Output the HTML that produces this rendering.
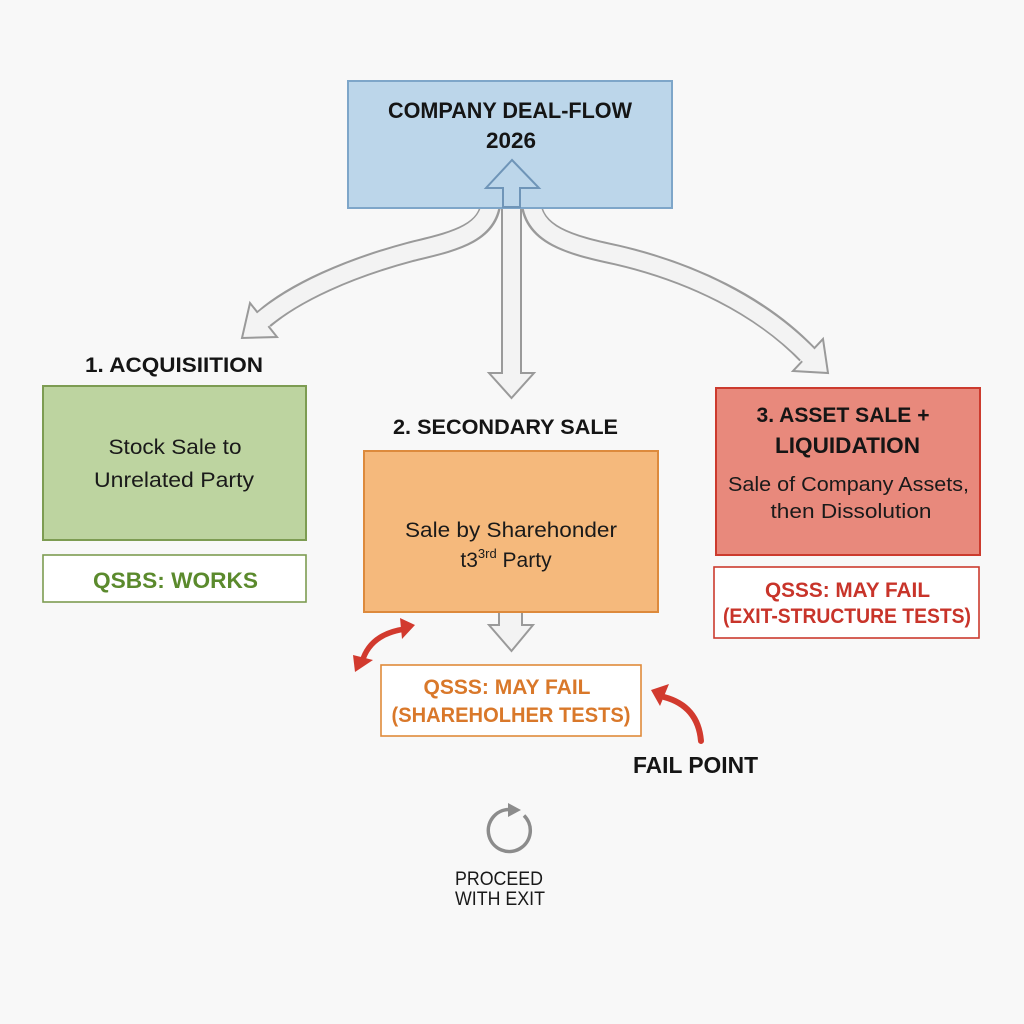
<!DOCTYPE html>
<html><head><meta charset="utf-8"><style>
html,body{margin:0;padding:0;background:#f8f8f8;}
svg{display:block;}
text{font-family:"Liberation Sans",sans-serif;}
.b{font-weight:bold;}
</style></head><body>
<svg width="1024" height="1024" viewBox="0 0 1024 1024" xmlns="http://www.w3.org/2000/svg">
<rect x="0" y="0" width="1024" height="1024" fill="#f8f8f8"/>

<!-- Left curved arrow -->
<path d="M491,200 C490,235 450,242 410,252 C350,268 295,292 264,319" fill="none" stroke="#9a9a9a" stroke-width="21"/>
<polygon points="242,338 250,303 277,337" fill="#f3f3f3" stroke="#9a9a9a" stroke-width="2" stroke-linejoin="miter"/>
<path d="M491,198 C490,235 450,242 410,252 C350,268 295,292 260,322" fill="none" stroke="#f3f3f3" stroke-width="17"/>

<!-- Right curved arrow -->
<path d="M531,200 C532,235 570,245 617,255 C690,272 760,305 807,354" fill="none" stroke="#9a9a9a" stroke-width="21"/>
<polygon points="828,373 823,339 793,371" fill="#f3f3f3" stroke="#9a9a9a" stroke-width="2" stroke-linejoin="miter"/>
<path d="M531,198 C532,235 570,245 617,255 C690,272 760,305 811,358" fill="none" stroke="#f3f3f3" stroke-width="17"/>

<!-- Center down arrow -->
<polygon points="502,200 521,200 521,373 534,373 511.5,398 489,373 502,373" fill="#f3f3f3" stroke="#9a9a9a" stroke-width="2"/>

<!-- Top box -->
<rect x="348" y="81" width="324" height="127" fill="#bcd6ea" stroke="#7ea6c9" stroke-width="2"/>
<text x="510" y="118" font-size="22" class="b" fill="#151515" text-anchor="middle" textLength="244" lengthAdjust="spacingAndGlyphs">COMPANY DEAL-FLOW</text>
<text x="511" y="148" font-size="22" class="b" fill="#151515" text-anchor="middle" textLength="50" lengthAdjust="spacingAndGlyphs">2026</text>
<polygon points="512,160 539,188 520,188 520,207 503,207 503,188 486,188" fill="#bcd6ea" stroke="#6f95b8" stroke-width="2" stroke-linejoin="miter"/>

<!-- Left column -->
<text x="174" y="372" font-size="21" class="b" fill="#151515" text-anchor="middle" textLength="178" lengthAdjust="spacingAndGlyphs">1. ACQUISIITION</text>
<rect x="43" y="386" width="263" height="154" fill="#bdd4a0" stroke="#7d9c52" stroke-width="2"/>
<text x="175" y="454" font-size="21" fill="#1a1a1a" text-anchor="middle" textLength="133" lengthAdjust="spacingAndGlyphs">Stock Sale to</text>
<text x="174" y="487" font-size="21" fill="#1a1a1a" text-anchor="middle" textLength="160" lengthAdjust="spacingAndGlyphs">Unrelated Party</text>
<rect x="43" y="555" width="263" height="47" fill="#ffffff" stroke="#7d9c52" stroke-width="1.6"/>
<text x="175.5" y="588" font-size="22" class="b" fill="#5b8a2d" text-anchor="middle" textLength="165" lengthAdjust="spacingAndGlyphs">QSBS: WORKS</text>

<!-- Middle column -->
<text x="505.5" y="434" font-size="21" class="b" fill="#151515" text-anchor="middle" textLength="225" lengthAdjust="spacingAndGlyphs">2. SECONDARY SALE</text>
<polygon points="499,605 522,605 522,625 533,625 511.5,651 489,625 499,625" fill="#f3f3f3" stroke="#9a9a9a" stroke-width="2"/>
<rect x="364" y="451" width="294" height="161" fill="#f5b97c" stroke="#dd8a3c" stroke-width="2"/>
<text x="511" y="537" font-size="21" fill="#1a1a1a" text-anchor="middle" textLength="212" lengthAdjust="spacingAndGlyphs">Sale by Sharehonder</text>
<text x="506" y="567" font-size="21" fill="#1a1a1a" text-anchor="middle">t3<tspan font-size="13" dy="-9">3rd</tspan><tspan dy="9"> Party</tspan></text>

<rect x="381" y="665" width="260" height="71" fill="#ffffff" stroke="#e08a3a" stroke-width="1.6"/>
<text x="507" y="694" font-size="21" class="b" fill="#d9782a" text-anchor="middle" textLength="167" lengthAdjust="spacingAndGlyphs">QSSS: MAY FAIL</text>
<text x="511" y="722" font-size="21" class="b" fill="#d9782a" text-anchor="middle" textLength="239" lengthAdjust="spacingAndGlyphs">(SHAREHOLHER TESTS)</text>

<!-- Red double arrow -->
<path d="M362,662 Q370,634 405,629" fill="none" stroke="#d23a2e" stroke-width="5.5" stroke-linecap="round"/>
<polygon points="353,655 355,672 373,660" fill="#d23a2e"/>
<polygon points="400,618 415,625 402,639" fill="#d23a2e"/>

<!-- Fail point arrow -->
<path d="M701,741 Q698,706 664,697" fill="none" stroke="#d23a2e" stroke-width="6" stroke-linecap="round"/>
<polygon points="651,690 669,684 660,706" fill="#d23a2e"/>
<text x="695.5" y="773" font-size="23" class="b" fill="#151515" text-anchor="middle" textLength="125" lengthAdjust="spacingAndGlyphs">FAIL POINT</text>

<!-- Right column -->
<rect x="716" y="388" width="264" height="167" fill="#e8897c" stroke="#cc3b2e" stroke-width="2"/>
<text x="843" y="422" font-size="21" class="b" fill="#151515" text-anchor="middle" textLength="173" lengthAdjust="spacingAndGlyphs">3. ASSET SALE +</text>
<text x="847.5" y="453" font-size="22" class="b" fill="#151515" text-anchor="middle" textLength="145" lengthAdjust="spacingAndGlyphs">LIQUIDATION</text>
<text x="848.5" y="491" font-size="20" fill="#1a1a1a" text-anchor="middle" textLength="241" lengthAdjust="spacingAndGlyphs">Sale of Company Assets,</text>
<text x="851" y="518" font-size="20" fill="#1a1a1a" text-anchor="middle" textLength="161" lengthAdjust="spacingAndGlyphs">then Dissolution</text>

<rect x="714" y="567" width="265" height="71" fill="#ffffff" stroke="#cc3b2e" stroke-width="1.6"/>
<text x="847.5" y="597" font-size="21" class="b" fill="#c8342a" text-anchor="middle" textLength="165" lengthAdjust="spacingAndGlyphs">QSSS: MAY FAIL</text>
<text x="847" y="623" font-size="21" class="b" fill="#c8342a" text-anchor="middle" textLength="248" lengthAdjust="spacingAndGlyphs">(EXIT-STRUCTURE TESTS)</text>

<!-- Proceed icon -->
<path d="M 509 809.5 A 21 21 0 1 0 524 815.5" fill="none" stroke="#8c8c8c" stroke-width="3.5"/>
<polygon points="508,803 508,817 521,810" fill="#8c8c8c"/>
<text x="499" y="885" font-size="19" fill="#1a1a1a" text-anchor="middle" textLength="88" lengthAdjust="spacingAndGlyphs">PROCEED</text>
<text x="500" y="905" font-size="19" fill="#1a1a1a" text-anchor="middle" textLength="90" lengthAdjust="spacingAndGlyphs">WITH EXIT</text>
</svg>
</body></html>
